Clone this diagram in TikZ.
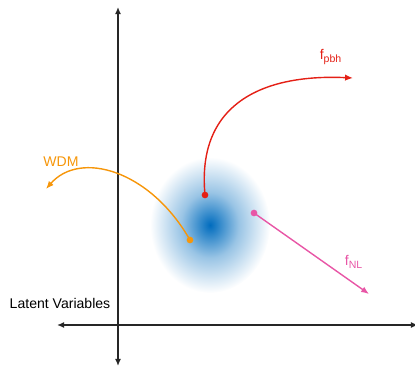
\documentclass[tikz,border=0pt]{standalone}
\usepackage{fontspec}
\setmainfont{Liberation Sans}
\usepackage{tikz}
\usetikzlibrary{arrows.meta, positioning, shadings}
\definecolor{BlobBlue}{RGB}{0,108,190}
\definecolor{PbhRed}{RGB}{228,32,22}
\definecolor{WdmOrange}{RGB}{246,150,10}
\definecolor{NlPink}{RGB}{232,86,166}
\pgfdeclareradialshading{blob}{\pgfpoint{0bp}{0bp}}{%
  color(0bp)=(BlobBlue); color(2bp)=(BlobBlue!90);
  color(12bp)=(BlobBlue!40); color(25bp)=(white); color(50bp)=(white)}

\begin{document}
\begin{tikzpicture}[x=0.02cm, y=-0.02cm,
          axis/.style={{Latex[length=4pt,width=3.4pt]}-{Latex[length=4pt,width=3.4pt]}, line width=1.1pt, black!85},
          flow/.style={-{Latex[length=4.5pt,width=3.6pt]}, line width=0.8pt},
          dot/.style={circle, fill, inner sep=0pt, minimum size=3.8pt},
          lbl/.style={font=\fontsize{8}{9.6}\selectfont, inner sep=1pt}
        ]
        \useasboundingbox (0,0) rectangle (415,367);

        % Latent space
        \shade[shading=blob] (210,225) ellipse (60 and 68);

        % Axes
        \coordinate (ytop) at (118,7);
        \coordinate (ybot) at (118,366);
        \coordinate (xl)   at (57,325);
        \coordinate (xr)   at (418,325);
        \draw[axis] (ybot) -- (ytop);
        \draw[axis] (xl) -- (xr);
        \node[lbl] (latent) at (60,303) {Latent Variables};

        % Directions
        \node[dot, PbhRed]    (pbh0) at (205,195) {};
        \node[dot, WdmOrange] (wdm0) at (190,240) {};
        \node[dot, NlPink]    (nl0)  at (254,213) {};
        \coordinate (pbh1) at (353,78);
        \coordinate (wdm1) at (46,189);
        \coordinate (nl1)  at (369,294);

        \draw[flow, PbhRed] (pbh0.center) .. controls (196,100) and (268,74) .. (pbh1);
        \draw[flow, WdmOrange] (wdm0.center) .. controls (150,170) and (80,150) .. (wdm1);
        \draw[flow, NlPink] (nl0.center) -- (nl1);

        \node[lbl, PbhRed]    (fpbh) at (331,57)  {f\textsubscript{pbh}};
        \node[lbl, WdmOrange] (wdm)  at (61,162)  {WDM};
        \node[lbl, NlPink]    (fnl)  at (354,262) {f\textsubscript{NL}};
      \end{tikzpicture}
\end{document}
